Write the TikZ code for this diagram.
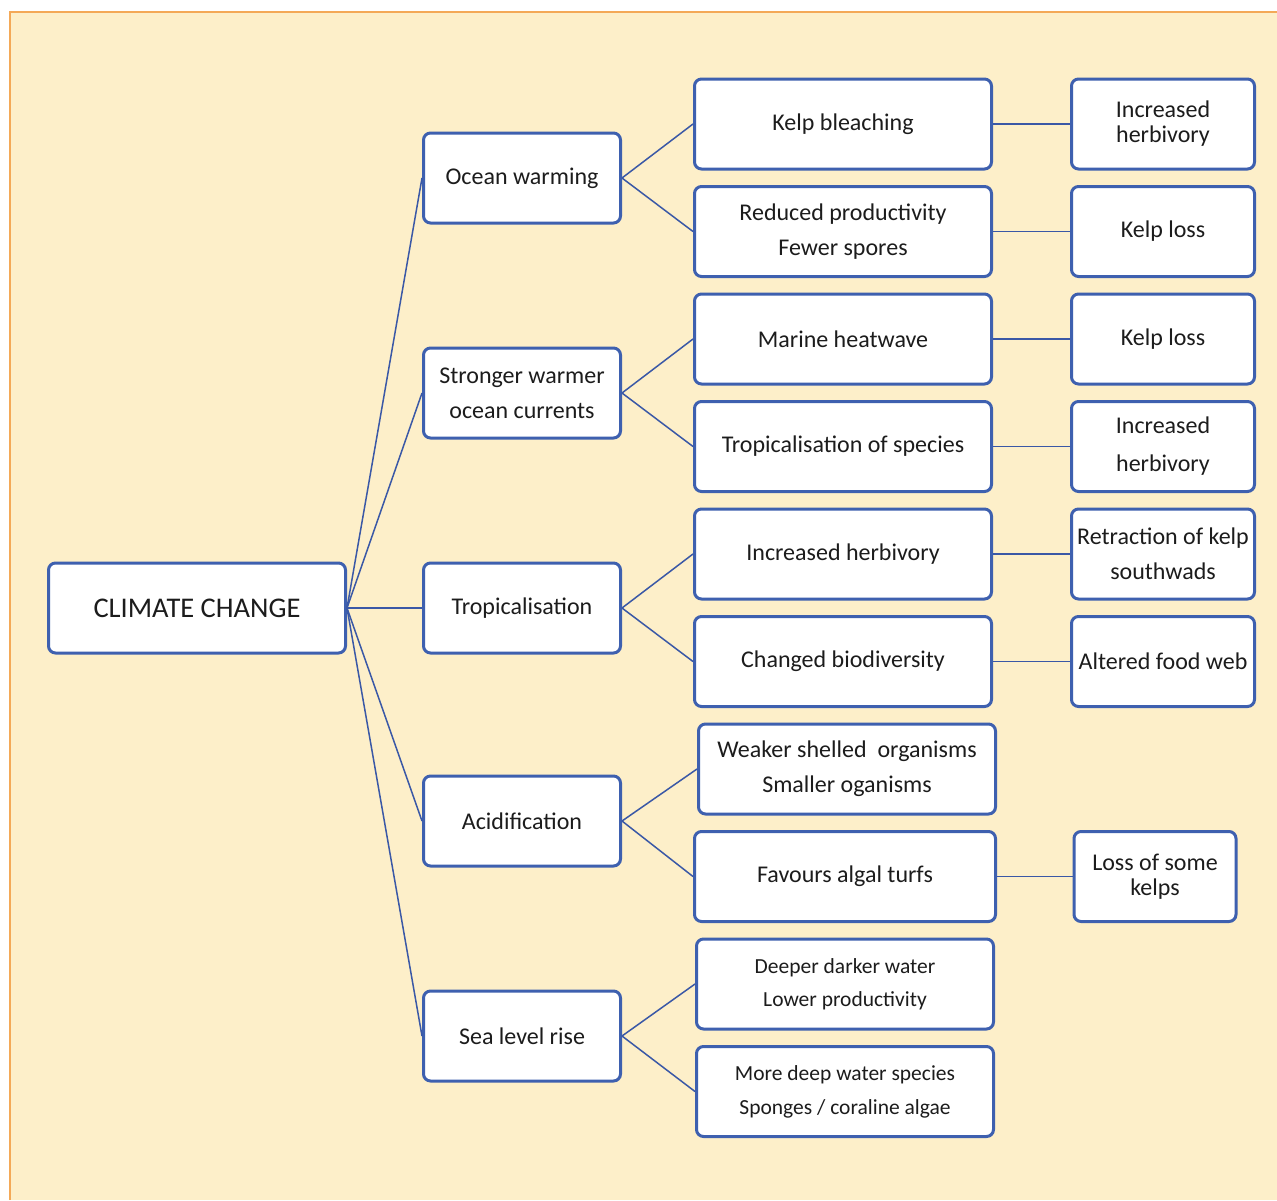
\documentclass[tikz,border=0pt]{standalone}
\usepackage{fontspec}
\setmainfont{Carlito}

\definecolor{cream}{HTML}{FDEFC9}
\definecolor{frame}{HTML}{F4A957}
\definecolor{boxblue}{HTML}{3E60AF}
\definecolor{lineblue}{HTML}{3A58A6}
\definecolor{ink}{HTML}{1C1C1C}

\begin{document}
\begin{tikzpicture}[x=1pt,y=-1pt,node distance=107.5pt]
			\tikzstyle{box}=[draw=boxblue, line width=3pt, fill=white, rounded corners=7pt, text=ink, align=center, inner sep=0pt, minimum height=90pt, font=\fontsize{24}{35}\selectfont]
			\tikzstyle{cause}=[box, minimum width=197pt]
			\tikzstyle{effect}=[box, minimum width=297pt]
			\tikzstyle{result}=[box, minimum width=183pt]
			\tikzstyle{tight}=[font=\fontsize{24}{25}\selectfont]
			\tikzstyle{link}=[lineblue, line width=1.5pt]
			\useasboundingbox (0,0) rectangle (1277,1200);
			%Background
			\fill[cream](10,12) rectangle (1277,1200);
			\draw[frame, line width=2pt](10,1200)--(10,12)--(1277,12);
			%Root
			\node[box, minimum width=297pt, font=\fontsize{28.5}{35}\selectfont](cc) at (197,608){CLIMATE CHANGE};
			%Causes
			\node[cause](tr)[right of = cc, node distance=325pt]{Tropicalisation};
			\node[cause](sw)[above of = tr, node distance=215pt]{Stronger warmer\\ocean currents};
			\node[cause](ow)[above of = sw, node distance=215pt]{Ocean warming};
			\node[cause](ac)[below of = tr, node distance=213pt]{Acidification};
			\node[cause](sl)[below of = ac, node distance=215pt]{Sea level rise};
			%Effects
			\node[effect](kb) at (843,124){Kelp bleaching};
			\node[effect](rp)[below of = kb]{Reduced productivity\\Fewer spores};
			\node[effect](mh)[below of = rp]{Marine heatwave};
			\node[effect](ts)[below of = mh]{Tropicalisation of species};
			\node[effect](ih)[below of = ts]{Increased herbivory};
			\node[effect](cb)[below of = ih]{Changed biodiversity};
			\node[effect](ws)[below of = cb, xshift=4pt]{Weaker shelled\ \ organisms\\Smaller oganisms};
			\node[effect](fa)[below of = ws, xshift=-2pt, minimum width=301pt]{Favours algal turfs};
			\node[effect, font=\fontsize{21.5}{33}\selectfont](dd)[below of = fa]{Deeper darker water\\Lower productivity};
			\node[effect, font=\fontsize{21.5}{34}\selectfont](md)[below of = dd]{More deep water species\\Sponges / coraline algae};
			%Results
			\node[result, tight](rh1)[right of = kb, node distance=320pt]{Increased\\herbivory};
			\node[result](kl1)[right of = rp, node distance=320pt]{Kelp loss};
			\node[result](kl2)[right of = mh, node distance=320pt]{Kelp loss};
			\node[result](rh2)[right of = ts, node distance=320pt]{Increased\\[3pt]herbivory};
			\node[result](rk)[right of = ih, node distance=320pt]{Retraction of kelp\\southwads};
			\node[result](af)[right of = cb, node distance=320pt]{Altered food web};
			\node[result, tight, minimum width=162pt](ls)[right of = fa, node distance=310pt]{Loss of some\\kelps};
			%Root to causes
			\draw[link](cc.east)--(ow.west);
			\draw[link](cc.east)--(sw.west);
			\draw[link](cc.east)--(tr.west);
			\draw[link](cc.east)--(ac.west);
			\draw[link](cc.east)--(sl.west);
			%Causes to effects
			\draw[link](ow.east)--(kb.west);
			\draw[link](ow.east)--(rp.west);
			\draw[link](sw.east)--(mh.west);
			\draw[link](sw.east)--(ts.west);
			\draw[link](tr.east)--(ih.west);
			\draw[link](tr.east)--(cb.west);
			\draw[link](ac.east)--(ws.west);
			\draw[link](ac.east)--(fa.west);
			\draw[link](sl.east)--(dd.west);
			\draw[link](sl.east)--(md.west);
			%Effects to results
			\draw[link](kb.east)--(rh1.west);
			\draw[link](rp.east)--(kl1.west);
			\draw[link](mh.east)--(kl2.west);
			\draw[link](ts.east)--(rh2.west);
			\draw[link](ih.east)--(rk.west);
			\draw[link](cb.east)--(af.west);
			\draw[link](fa.east)--(ls.west);
\end{tikzpicture}
\end{document}
